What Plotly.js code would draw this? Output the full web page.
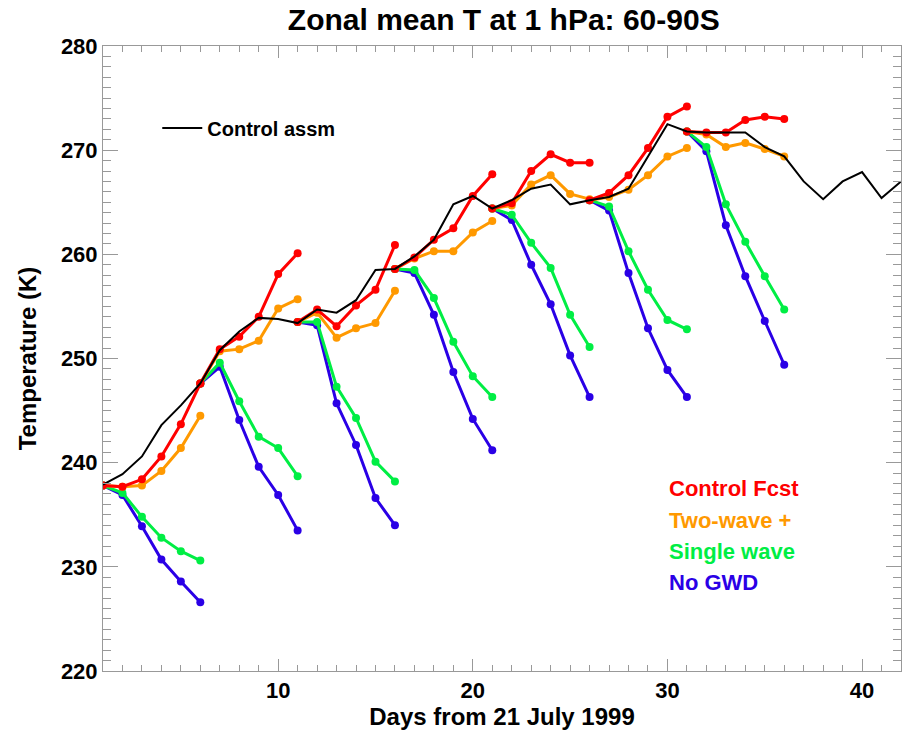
<!DOCTYPE html>
<html>
<head>
<meta charset="utf-8">
<script src="https://cdn.plot.ly/plotly-3.0.1.min.js"></script>
<style>html,body{margin:0;padding:0;background:#fff;}#chart{width:906px;height:736px;}</style>
</head>
<body>
<div id="chart"></div>
<script>
// Control analysis (daily)
const assmDays = [1,2,3,4,5,6,7,8,9,10,11,12,13,14,15,16,17,18,19,20,21,22,23,24,25,26,27,28,29,30,31,32,33,34,35,36,37,38,39,40,41,42];
const controlAssm = [237.9,238.9,240.6,243.6,245.5,247.6,250.8,252.6,253.9,253.8,253.4,254.7,254.4,255.6,258.5,258.6,259.8,261.4,264.8,265.6,264.4,265.2,266.3,266.7,264.8,265.2,265.5,266.3,269.4,272.5,271.8,271.7,271.7,271.7,270.3,269.4,267.0,265.3,267.0,267.9,265.4,267.0];

// Forecast days (each forecast is 5 days long)
const fcstDays = [
  [1,2,3,4,5,6],
  [6,7,8,9,10,11],
  [11,12,13,14,15,16],
  [16,17,18,19,20,21],
  [21,22,23,24,25,26],
  [26,27,28,29,30,31],
  [31,32,33,34,35,36]
];
const controlFcst = [
  [237.8,237.7,238.4,240.6,243.7,247.6],
  [247.6,250.9,252.1,254.0,258.1,260.1],
  [253.5,254.7,253.1,255.1,256.6,260.9],
  [258.6,259.7,261.4,262.5,265.6,267.7],
  [264.4,264.9,268.0,269.6,268.8,268.8],
  [265.2,265.9,267.6,270.2,273.2,274.2],
  [271.8,271.7,271.7,272.9,273.2,273.0]
];
const twoWave = [
  [237.8,237.7,237.8,239.2,241.4,244.5],
  [247.6,250.7,250.9,251.7,254.8,255.7],
  [253.5,254.4,252.0,252.9,253.4,256.5],
  [258.6,259.6,260.3,260.3,262.1,263.2],
  [264.4,264.7,266.7,267.6,265.8,265.3],
  [265.2,265.5,266.2,267.6,269.4,270.2],
  [271.8,271.5,270.3,270.7,270.1,269.4]
];
const singleWave = [
  [237.8,237.1,234.8,232.8,231.5,230.6],
  [247.6,249.6,245.9,242.5,241.4,238.7],
  [253.5,253.5,247.3,244.3,240.1,238.2],
  [258.6,258.5,255.8,251.6,248.3,246.3],
  [264.4,263.8,261.1,258.7,254.2,251.1],
  [265.2,264.6,260.3,256.6,253.7,252.8],
  [271.8,270.3,264.8,261.2,257.9,254.7]
];
const noGWD = [
  [237.8,236.9,233.9,230.7,228.6,226.6],
  [247.6,249.2,244.1,239.6,236.9,233.5],
  [253.5,253.2,245.7,241.7,236.6,234.0],
  [258.6,258.2,254.2,248.7,244.2,241.2],
  [264.4,263.3,259.0,255.2,250.3,246.3],
  [265.2,264.2,258.2,252.9,248.9,246.3],
  [271.8,269.9,262.8,257.9,253.6,249.4]
];

const seriesNames = ['Control Fcst','Two-wave +','Single wave','No GWD'];
const seriesColors = ['#ff0000','#ff9900','#00ee44','#2a00e6'];
const seriesData = [controlFcst, twoWave, singleWave, noGWD];

function joinSegments(segs){
  const out = [];
  segs.forEach((s,i)=>{ if(i>0) out.push(null); s.forEach(v=>out.push(v)); });
  return out;
}

const traces = [];
// draw order: No GWD, Single wave, Two-wave, Control Fcst, then analysis on top
[3,2,1,0].forEach(k=>{
  traces.push({
    x: joinSegments(fcstDays),
    y: joinSegments(seriesData[k]),
    type:'scatter', mode:'lines+markers',
    name: seriesNames[k],
    connectgaps:false,
    line:{color:seriesColors[k], width:3},
    marker:{color:seriesColors[k], size:8},
    showlegend:false
  });
});
traces.push({
  x: assmDays, y: controlAssm, type:'scatter', mode:'lines',
  name:'Control assm', line:{color:'#000000', width:2}, showlegend:true
});

const fontFam = 'Liberation Sans, Arial, Helvetica, sans-serif';
const annotations = seriesNames.map((n,i)=>({
  text:'<b>'+n+'</b>', xref:'paper', yref:'paper',
  x:0.707, y:[0.2928,0.2416,0.1920,0.1424][i],
  xanchor:'left', yanchor:'middle', showarrow:false,
  font:{family:fontFam, size:22, color:seriesColors[i]}
}));

const axisCommon = {
  showgrid:false, zeroline:false, showline:true, linecolor:'#999', linewidth:1,
  mirror:'ticks', ticks:'inside', tickcolor:'#999', tickwidth:1,
  tickfont:{family:fontFam, size:22, color:'#000', weight:'bold'}
};

const layout = {
  width:906, height:736,
  margin:{l:103, r:5, t:46, b:65},
  paper_bgcolor:'#fff', plot_bgcolor:'#fff',
  title:{text:'<b>Zonal mean T at 1 hPa: 60-90S</b>', x:0.556, xref:'container', xanchor:'center',
         y:0.974, yref:'container', yanchor:'middle',
         font:{family:fontFam, size:30, color:'#000'}},
  xaxis:Object.assign({}, axisCommon, {
    range:[1,42], tick0:0, dtick:10, ticklen:12,
    minor:{dtick:1, ticklen:6, ticks:'inside', tickcolor:'#999', showgrid:false},
    title:{text:'<b>Days from 21 July 1999</b>', font:{family:fontFam, size:24, color:'#000'}, standoff:5}
  }),
  yaxis:Object.assign({}, axisCommon, {
    range:[220,280], tick0:0, dtick:10, ticklen:15,
    minor:{dtick:1, ticklen:8, ticks:'inside', tickcolor:'#999', showgrid:false},
    title:{text:'<b>Temperature (K)</b>', font:{family:fontFam, size:24, color:'#000'}, standoff:17}
  }),
  legend:{x:0.068, y:0.869, xanchor:'left', yanchor:'middle', bgcolor:'rgba(0,0,0,0)',
          itemwidth:40,
          font:{family:fontFam, size:20, color:'#000', weight:'bold'}},
  annotations:annotations
};

Plotly.newPlot('chart', traces, layout, {displayModeBar:false, staticPlot:true});
</script>
</body>
</html>
